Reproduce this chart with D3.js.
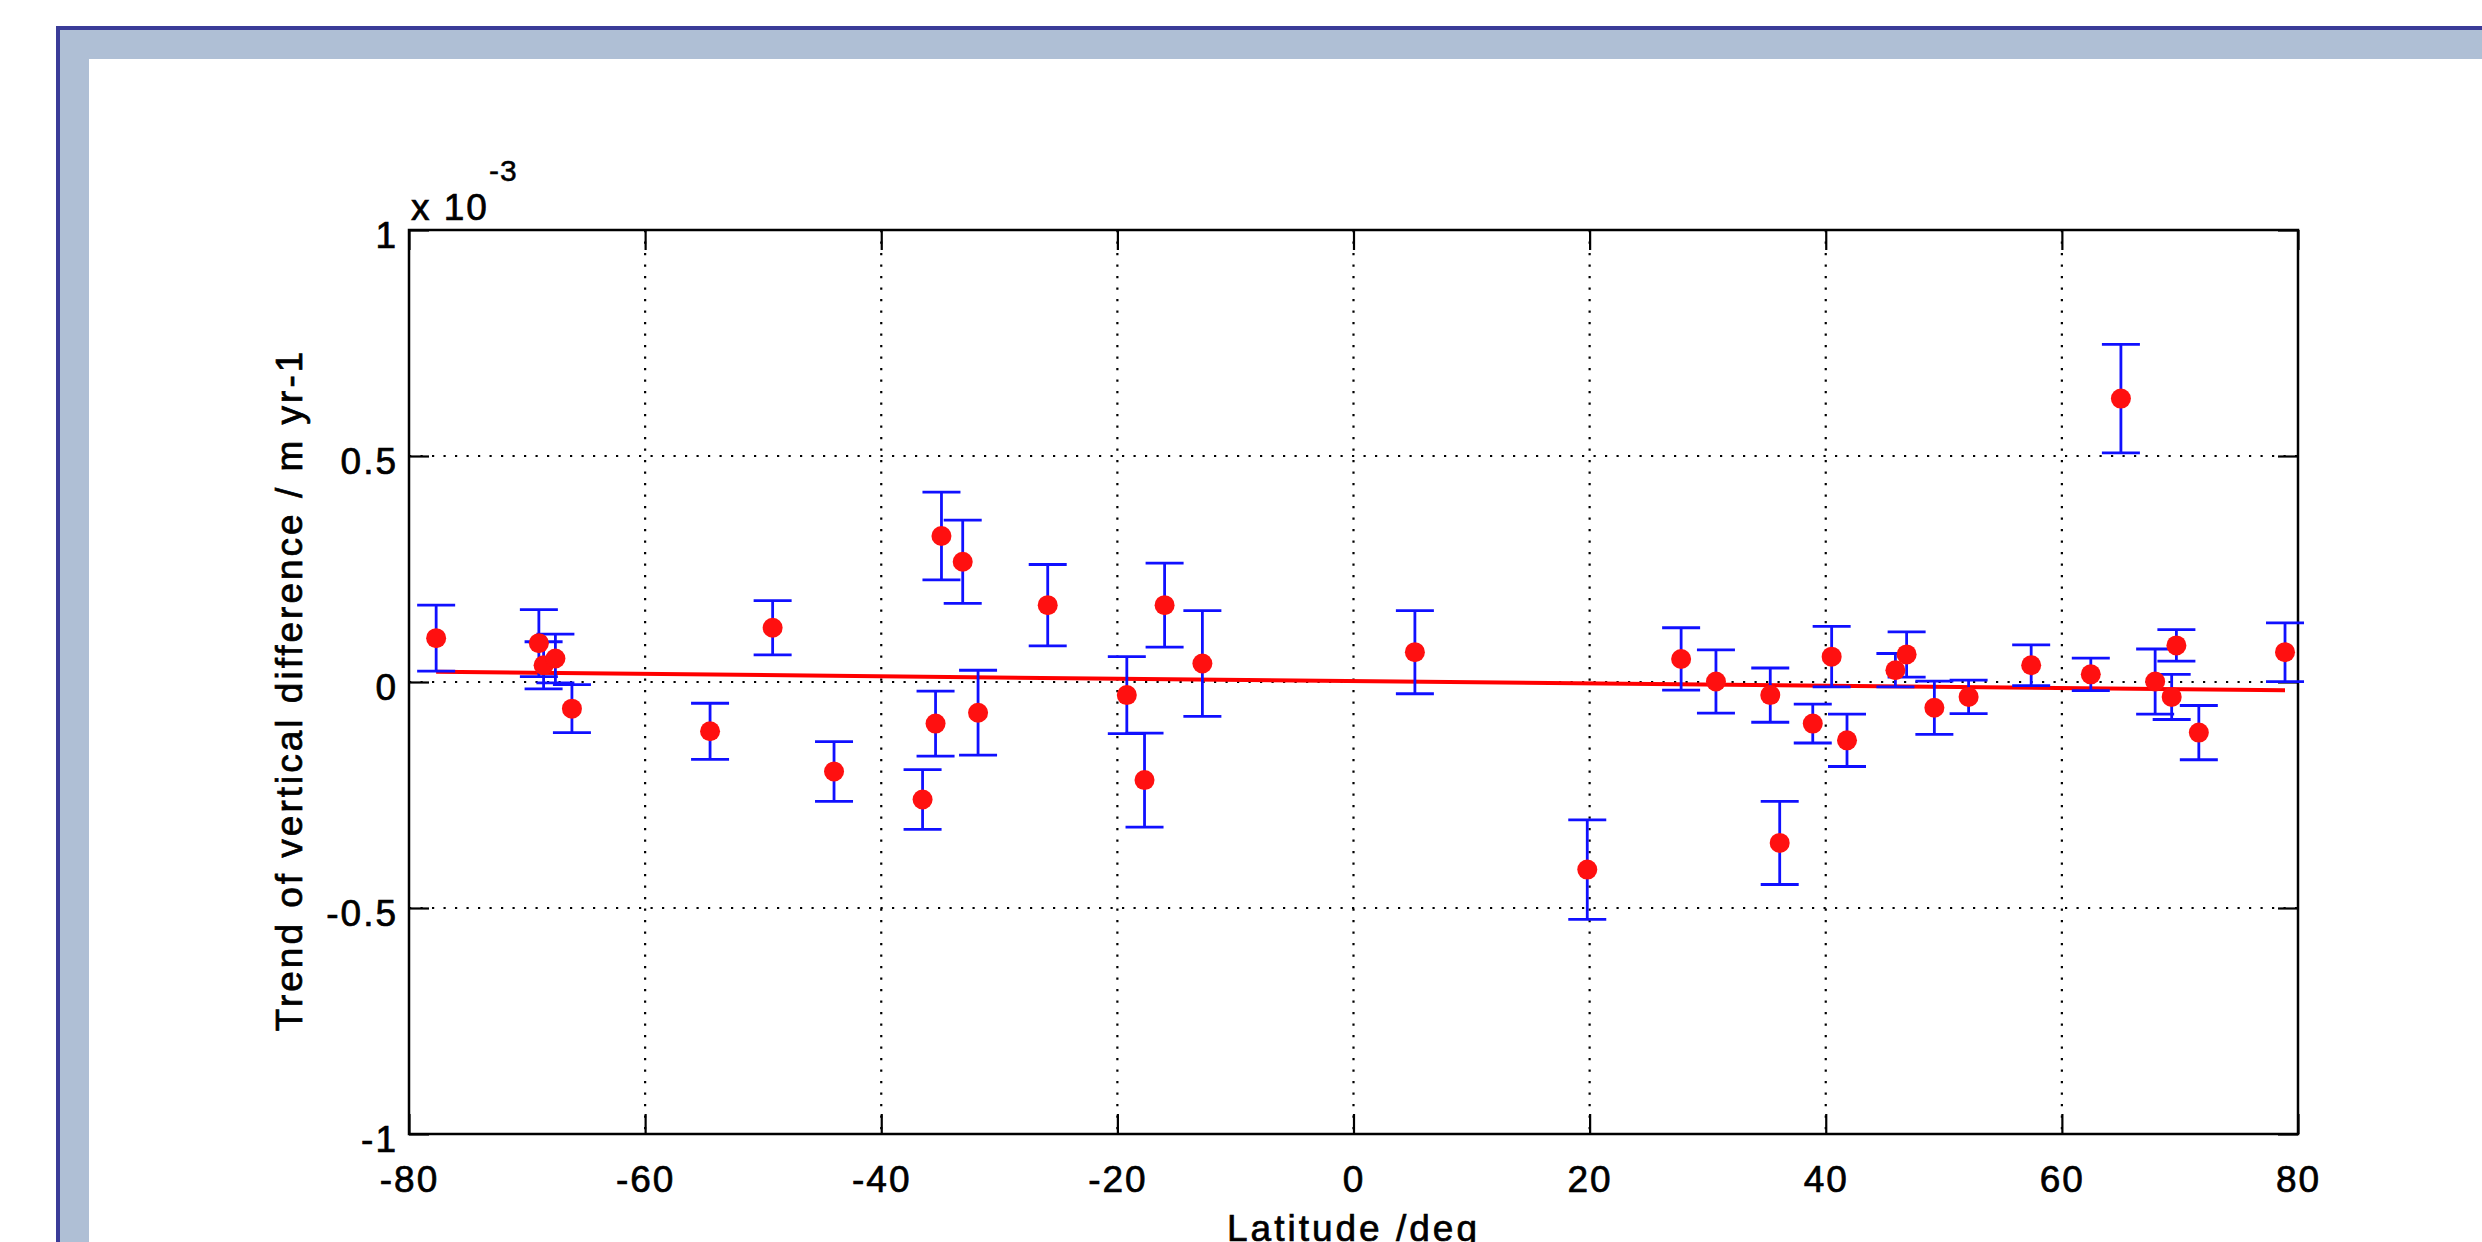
<!DOCTYPE html>
<html>
<head>
<meta charset="utf-8">
<script src="https://cdn.jsdelivr.net/npm/d3@7"></script>
<style>
  html, body { margin: 0; padding: 0; background: #fff; }
  svg { display: block; }
  text { font-family: "Liberation Sans", Arial, Helvetica, sans-serif; fill: #000; stroke: #000; stroke-width: 0.7px; }
</style>
</head>
<body>
<svg id="chart" width="2482" height="1242"></svg>
<script>
// ---- data (values in units of 1e-3 m/yr) ----
const latitudes = [-77.7, -69.0, -68.6, -67.6, -66.2, -54.5, -49.2, -44.0, -36.5, -35.4,
                   -34.9, -33.1, -31.8, -25.9, -19.2, -17.7, -16.0, -12.8, 5.2, 19.8,
                   27.75, 30.7, 35.3, 36.1, 38.9, 40.5, 41.8, 45.9, 46.85, 49.2,
                   52.1, 57.4, 62.45, 65.0, 67.9, 69.3, 69.7, 71.6, 78.9];
const trends = [0.097, 0.086, 0.037, 0.052, -0.059, -0.109, 0.120, -0.198, -0.260, -0.092,
                0.323, 0.266, -0.068, 0.170, -0.029, -0.217, 0.170, 0.041, 0.066, -0.415,
                0.051, 0.001, -0.029, -0.356, -0.092, 0.056, -0.129, 0.026, 0.061, -0.057,
                -0.033, 0.037, 0.017, 0.627, 0.001, -0.033, 0.081, -0.112, 0.066];
const errors = [0.073, 0.074, 0.052, 0.054, 0.053, 0.062, 0.060, 0.066, 0.066, 0.072,
                0.097, 0.092, 0.094, 0.090, 0.085, 0.104, 0.093, 0.117, 0.092, 0.110,
                0.069, 0.070, 0.060, 0.092, 0.043, 0.067, 0.058, 0.037, 0.050, 0.059,
                0.037, 0.045, 0.036, 0.120, 0.072, 0.050, 0.035, 0.060, 0.065];
const fitLat = [-77.7, 78.9];
const fitVal = [0.0225, -0.0185];
const xTicks = [-80, -60, -40, -20, 0, 20, 40, 60, 80];
const xTickLabels = ["-80", "-60", "-40", "-20", "0", "20", "40", "60", "80"];
const yTicks = [-1, -0.5, 0, 0.5, 1];
const yTickLabels = ["-1", "-0.5", "0", "0.5", "1"];
const xLabel = "Latitude /deg";
const yLabel = "Trend of vertical difference / m yr-1";

const svg = d3.select("#chart");

// ---- page frame ----
svg.append("rect").attr("x", 56).attr("y", 26).attr("width", 2482).attr("height", 1300).attr("fill", "#3a3c98");
svg.append("rect").attr("x", 60).attr("y", 30).attr("width", 2482).attr("height", 1300).attr("fill", "#afbfd5");
svg.append("rect").attr("x", 89).attr("y", 59).attr("width", 2482).attr("height", 1300).attr("fill", "#ffffff");

// ---- scales ----
const L = 409, R = 2298, T = 230, B = 1134;
const x = d3.scaleLinear().domain([-80, 80]).range([L, R]);
const y = d3.scaleLinear().domain([-1, 1]).range([B, T]);

// ---- grid (dotted) ----
const grid = svg.append("g").attr("stroke", "#000").attr("stroke-width", 2.2).attr("stroke-dasharray", "2.2,9.3");
grid.selectAll(".gx").data(xTicks.filter(t => t > -80 && t < 80)).join("line")
  .attr("x1", d => x(d)).attr("x2", d => x(d)).attr("y1", T).attr("y2", B);
grid.selectAll(".gy").data(yTicks.filter(t => t > -1 && t < 1)).join("line")
  .attr("y1", d => y(d)).attr("y2", d => y(d)).attr("x1", L).attr("x2", R);

// ---- axes via d3 ----
const fs = 37;
const axB = svg.append("g").attr("transform", `translate(0,${B})`)
  .call(d3.axisBottom(x).tickValues(xTicks).tickSize(-20).tickFormat((d, i) => xTickLabels[i]));
const axT = svg.append("g").attr("transform", `translate(0,${T})`)
  .call(d3.axisTop(x).tickValues(xTicks).tickSize(-20).tickFormat(""));
const axL = svg.append("g").attr("transform", `translate(${L},0)`)
  .call(d3.axisLeft(y).tickValues(yTicks).tickSize(-20).tickPadding(11).tickFormat((d, i) => yTickLabels[i]));
const axR = svg.append("g").attr("transform", `translate(${R},0)`)
  .call(d3.axisRight(y).tickValues(yTicks).tickSize(-20).tickFormat(""));
[axB, axT, axL, axR].forEach(a => {
  a.select(".domain").remove();
  a.selectAll(".tick line").attr("stroke", "#000").attr("stroke-width", 2.2);
  a.selectAll("text").attr("font-size", fs).attr("font-family", "Liberation Sans, Arial, sans-serif")
    .attr("letter-spacing", "2px").attr("fill", "#000");
});
axB.selectAll(".tick text").attr("dy", null).attr("y", 58);
axL.selectAll(".tick text").attr("dy", "0.36em").attr("y", 4);

// box
svg.append("rect").attr("x", L).attr("y", T).attr("width", R - L).attr("height", B - T)
  .attr("fill", "none").attr("stroke", "#000").attr("stroke-width", 2.5);

// ---- exponent label ----
svg.append("text").attr("x", 411).attr("y", 220).attr("font-size", fs).attr("letter-spacing", "2px").text("x 10");
svg.append("text").attr("x", 489).attr("y", 181).attr("font-size", 30).attr("letter-spacing", "1px")
  .style("stroke-width", "0.5px").text("-3");

// ---- axis labels ----
svg.append("text").attr("x", x(0)).attr("y", 1241).attr("text-anchor", "middle")
  .attr("font-size", fs).attr("letter-spacing", "3px").text(xLabel);
svg.append("text").attr("transform", `translate(302,${690}) rotate(-90)`).attr("text-anchor", "middle")
  .attr("font-size", fs).attr("letter-spacing", "3px").text(yLabel);

// ---- trend line ----
const pts = latitudes.map((d, i) => ({lat: d, v: trends[i], e: errors[i]}));
svg.append("path").datum(fitLat.map((d, i) => [d, fitVal[i]]))
  .attr("d", d3.line().x(d => x(d[0])).y(d => y(d[1])))
  .attr("stroke", "#ff0000").attr("stroke-width", 4).attr("fill", "none");

// ---- error bars ----
const eb = svg.append("g").attr("stroke", "#1010ff").attr("stroke-width", 2.8);
const cap = 19;
eb.selectAll(".v").data(pts).join("line")
  .attr("x1", d => x(d.lat)).attr("x2", d => x(d.lat))
  .attr("y1", d => y(d.v + d.e)).attr("y2", d => y(d.v - d.e));
eb.selectAll(".t").data(pts).join("line")
  .attr("x1", d => x(d.lat) - cap).attr("x2", d => x(d.lat) + cap)
  .attr("y1", d => y(d.v + d.e)).attr("y2", d => y(d.v + d.e));
eb.selectAll(".b").data(pts).join("line")
  .attr("x1", d => x(d.lat) - cap).attr("x2", d => x(d.lat) + cap)
  .attr("y1", d => y(d.v - d.e)).attr("y2", d => y(d.v - d.e));

// ---- markers ----
svg.append("g").selectAll("circle").data(pts).join("circle")
  .attr("cx", d => x(d.lat)).attr("cy", d => y(d.v)).attr("r", 10)
  .attr("fill", "#ff1010");
</script>
</body>
</html>
